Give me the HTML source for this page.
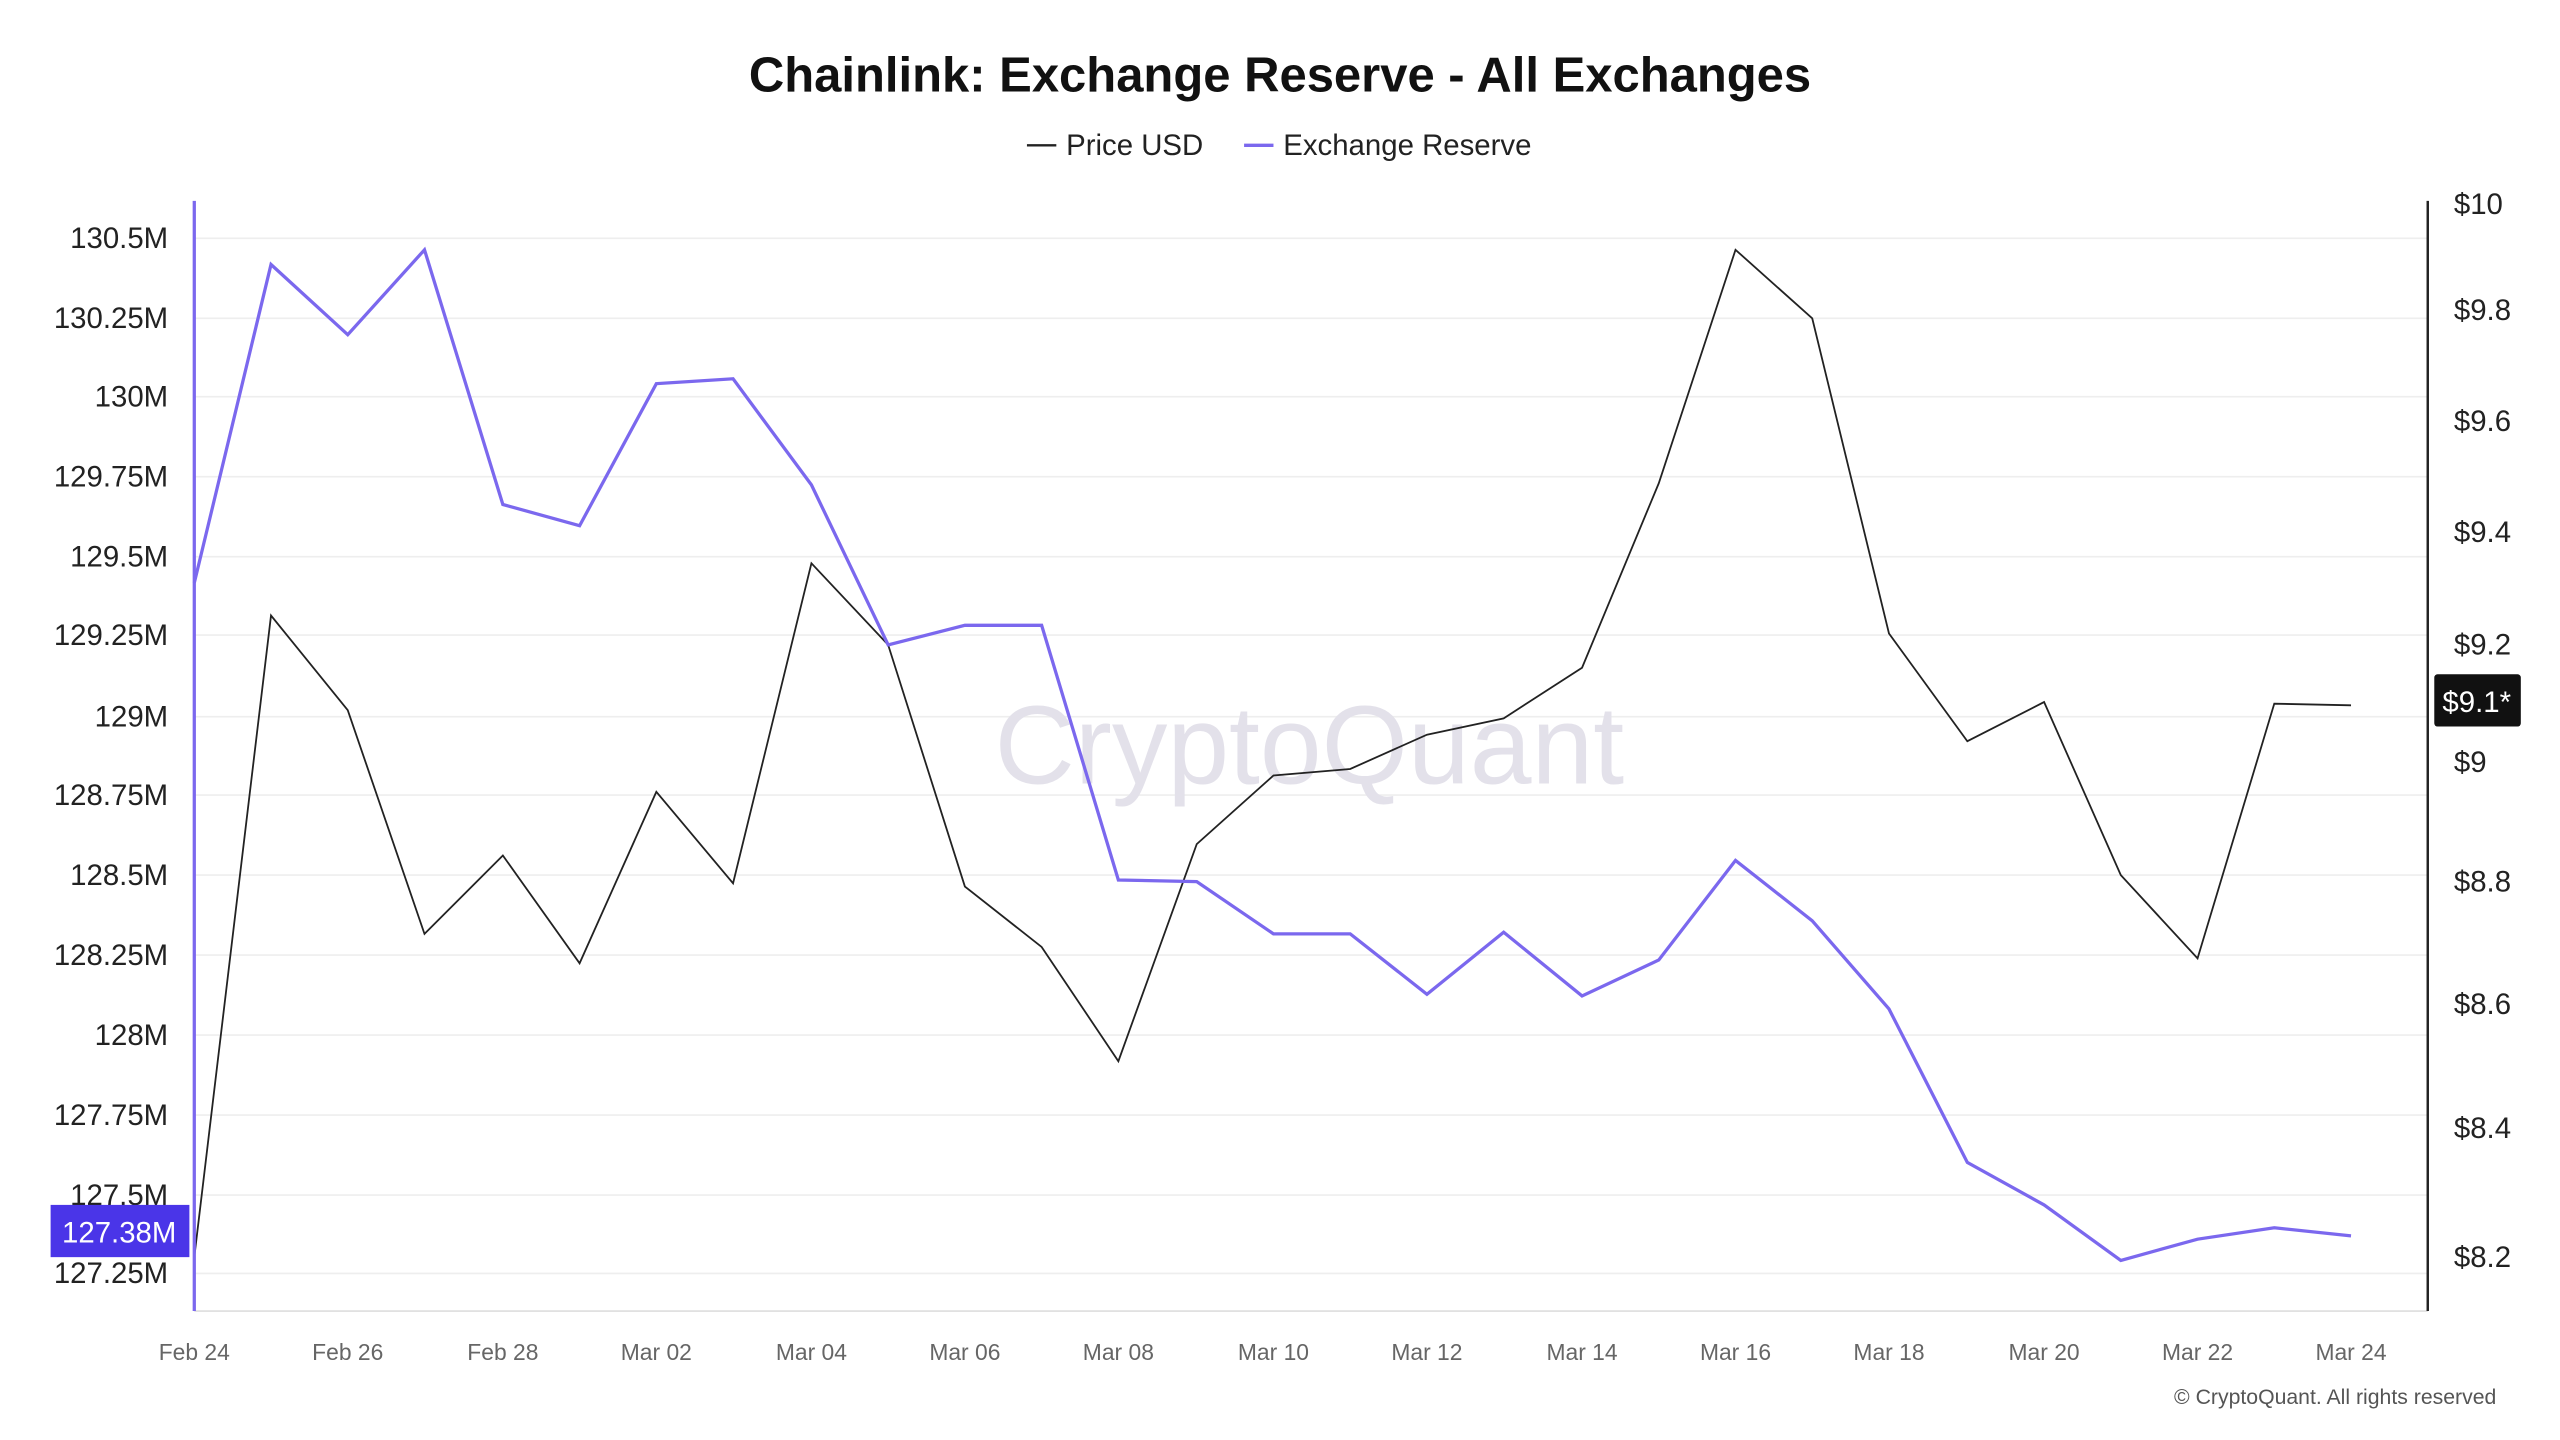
<!DOCTYPE html>
<html><head><meta charset="utf-8"><style>html,body{margin:0;padding:0;background:#fff;}svg{display:block;}</style></head>
<body>
<svg width="2560" height="1440" viewBox="0 0 1568 882" preserveAspectRatio="none" xmlns="http://www.w3.org/2000/svg" font-family="Liberation Sans, DejaVu Sans, sans-serif">
<rect width="1568" height="882" fill="#fff"/>
<text x="784" y="56" text-anchor="middle" font-size="30" font-weight="bold" fill="#111">Chainlink: Exchange Reserve - All Exchanges</text>
<line x1="629" y1="89" x2="647" y2="89" stroke="#222" stroke-width="1.5"/>
<text x="653" y="95" font-size="18" fill="#222">Price USD</text>
<line x1="762" y1="89" x2="780" y2="89" stroke="#7b68ee" stroke-width="2"/>
<text x="786" y="95" font-size="18" fill="#222">Exchange Reserve</text>
<g stroke="#eeeeee" stroke-width="1">
<line x1="119" x2="1487" y1="146" y2="146"/><line x1="119" x2="1487" y1="195" y2="195"/><line x1="119" x2="1487" y1="243" y2="243"/><line x1="119" x2="1487" y1="292" y2="292"/><line x1="119" x2="1487" y1="341" y2="341"/><line x1="119" x2="1487" y1="389" y2="389"/><line x1="119" x2="1487" y1="439" y2="439"/><line x1="119" x2="1487" y1="487" y2="487"/><line x1="119" x2="1487" y1="536" y2="536"/><line x1="119" x2="1487" y1="585" y2="585"/><line x1="119" x2="1487" y1="634" y2="634"/><line x1="119" x2="1487" y1="683" y2="683"/><line x1="119" x2="1487" y1="732" y2="732"/><line x1="119" x2="1487" y1="780" y2="780"/>
</g>
<text x="802" y="480" text-anchor="middle" font-size="68" fill="#e3e1ea">CryptoQuant</text>
<g font-size="18" fill="#222" text-anchor="end">
<text x="103" y="152">130.5M</text><text x="103" y="201">130.25M</text><text x="103" y="249">130M</text><text x="103" y="298">129.75M</text><text x="103" y="347">129.5M</text><text x="103" y="395">129.25M</text><text x="103" y="445">129M</text><text x="103" y="493">128.75M</text><text x="103" y="542">128.5M</text><text x="103" y="591">128.25M</text><text x="103" y="640">128M</text><text x="103" y="689">127.75M</text><text x="103" y="738">127.5M</text><text x="103" y="786">127.25M</text>
</g>
<g font-size="18" fill="#222">
<text x="1503" y="131">$10</text><text x="1503" y="196">$9.8</text><text x="1503" y="264">$9.6</text><text x="1503" y="332">$9.4</text><text x="1503" y="401">$9.2</text><text x="1503" y="473">$9</text><text x="1503" y="546">$8.8</text><text x="1503" y="621">$8.6</text><text x="1503" y="697">$8.4</text><text x="1503" y="776">$8.2</text>
</g>
<g font-size="14" fill="#666" text-anchor="middle">
<text x="119" y="833">Feb 24</text><text x="213" y="833">Feb 26</text><text x="308" y="833">Feb 28</text><text x="402" y="833">Mar 02</text><text x="497" y="833">Mar 04</text><text x="591" y="833">Mar 06</text><text x="685" y="833">Mar 08</text><text x="780" y="833">Mar 10</text><text x="874" y="833">Mar 12</text><text x="969" y="833">Mar 14</text><text x="1063" y="833">Mar 16</text><text x="1157" y="833">Mar 18</text><text x="1252" y="833">Mar 20</text><text x="1346" y="833">Mar 22</text><text x="1440" y="833">Mar 24</text>
</g>
<line x1="119" y1="803" x2="1487" y2="803" stroke="#ddd"/>
<line x1="1487" y1="123" x2="1487" y2="803" stroke="#222" stroke-width="1.5"/>
<polyline fill="none" stroke="#222" stroke-width="1.1" points="119,770 166,377 213,435 260,572 308,524 355,590 402,485 449,541 497,345 544,395 591,543 638,580 685,650 733,517 780,475 827,471 874,450 921,440 969,409 1016,296 1063,153 1110,195 1157,388 1205,454 1252,430 1299,536 1346,587 1393,431 1440,432"/>
<polyline fill="none" stroke="#7b68ee" stroke-width="2" points="119,357 166,162 213,205 260,153 308,309 355,322 402,235 449,232 497,297 544,395 591,383 638,383 685,539 733,540 780,572 827,572 874,609 921,571 969,610 1016,588 1063,527 1110,564 1157,618 1205,712 1252,738 1299,772 1346,759 1393,752 1440,757"/>
<line x1="119" y1="123" x2="119" y2="803" stroke="#7b68ee" stroke-width="2"/>
<rect x="31" y="738" width="85" height="32" fill="#4a35e8"/>
<text x="73" y="761" text-anchor="middle" font-size="18" fill="#fff">127.38M</text>
<rect x="1491" y="413" width="53" height="32" rx="2" fill="#111"/>
<text x="1517" y="436" text-anchor="middle" font-size="18" fill="#fff">$9.1*</text>
<text x="1529" y="860" text-anchor="end" font-size="13" fill="#555">© CryptoQuant. All rights reserved</text>
</svg>
</body></html>
